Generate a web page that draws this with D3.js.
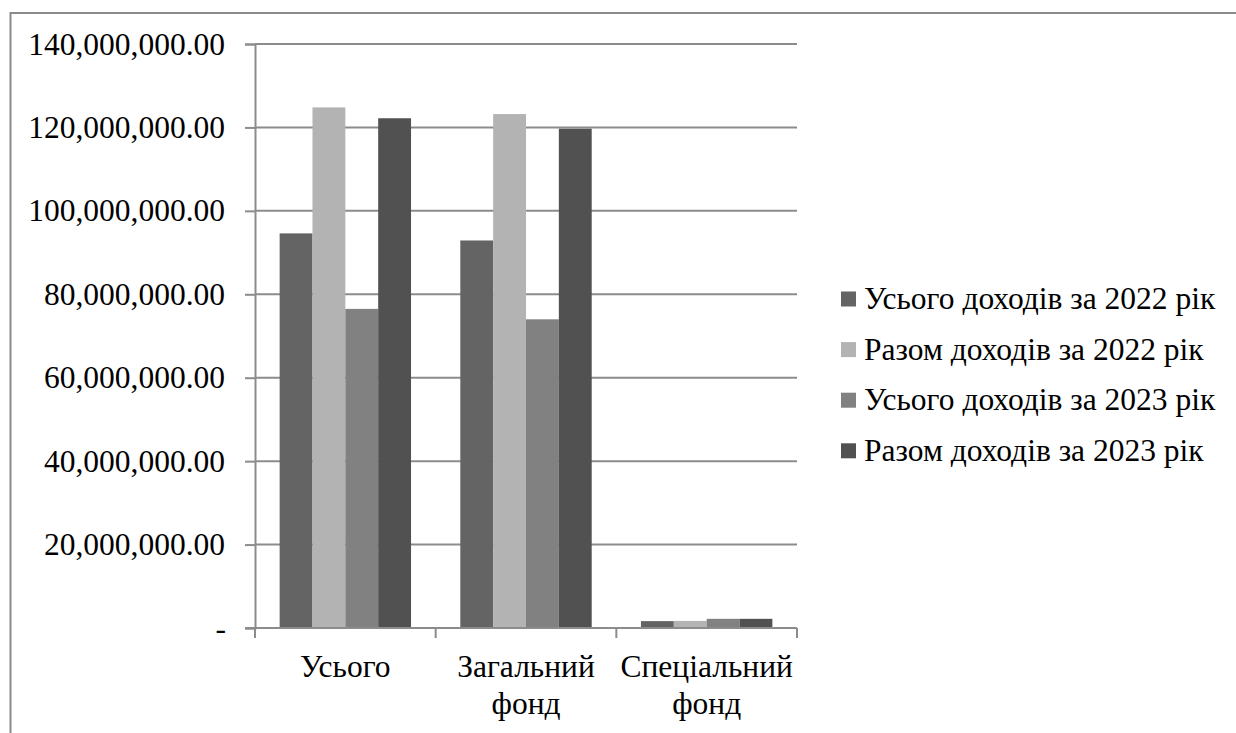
<!DOCTYPE html>
<html>
<head>
<meta charset="utf-8">
<script src="https://cdn.jsdelivr.net/npm/d3@7"></script>
<style>
    body { margin: 0; background: #fff; }
</style>
</head>
<body>
<div id="canvas"></div>
<script>
"use strict"

/* data */
let categories = ["Усього", "Загальний фонд", "Спеціальний фонд"];
let seriesNames = ["Усього доходів за 2022 рік", "Разом доходів за 2022 рік", "Усього доходів за 2023 рік", "Разом доходів за 2023 рік"];
let total2022 = [94600000, 92900000, 1650000];
let sum2022 = [124800000, 123200000, 1700000];
let total2023 = [76500000, 74000000, 2200000];
let sum2023 = [122200000, 119700000, 2200000];
let yTicks = [0, 20000000, 40000000, 60000000, 80000000, 100000000, 120000000, 140000000];
let seriesValues = [total2022, sum2022, total2023, sum2023];
let seriesColors = ["#646464", "#b3b3b3", "#818181", "#515151"];

let width = 1236, height = 733;
let fontName = "'Liberation Serif'";
let fontSize = "31.5px";

/* set up the drawing canvas */
let drawing = d3.select("#canvas")
    .append("svg")
    .attr("width", width)
    .attr("height", height);

/* outer chart frame, runs off the right and bottom edges */
drawing.append("rect")
    .attr("x", 10.5)
    .attr("y", 13)
    .attr("width", 1240)
    .attr("height", 740)
    .attr("fill", "none")
    .attr("stroke", "#8a8a8a")
    .attr("stroke-width", 2);

let plotLeft = 255, plotRight = 797, plotTop = 44, plotBottom = 628;

let y = d3.scaleLinear()
    .domain([0, 140000000])
    .range([plotBottom, plotTop]);

let x0 = d3.scaleBand()
    .domain(categories)
    .range([plotLeft, plotRight]);

/* Excel style gap width of 150% */
let barW = x0.bandwidth() / (seriesNames.length + 1.5);
let x1 = d3.scaleBand()
    .domain(seriesNames)
    .range([barW * 0.75, barW * 0.75 + barW * seriesNames.length]);

/* gridlines */
drawing.append("g")
    .selectAll("line")
    .data(yTicks.filter(d => d > 0))
    .join("line")
    .attr("x1", plotLeft)
    .attr("x2", plotRight)
    .attr("y1", d => y(d))
    .attr("y2", d => y(d))
    .attr("stroke", "#8c8c8c")
    .attr("stroke-width", 2);

/* bars */
let rows = categories.map((c, i) => ({
    cat: c,
    vals: seriesNames.map((s, j) => ({ name: s, value: seriesValues[j][i], color: seriesColors[j] }))
}));

drawing.append("g")
    .selectAll("g")
    .data(rows)
    .join("g")
    .attr("transform", d => "translate(" + x0(d.cat) + ",0)")
    .selectAll("rect")
    .data(d => d.vals)
    .join("rect")
    .attr("x", d => x1(d.name))
    .attr("width", x1.bandwidth())
    .attr("y", d => y(d.value))
    .attr("height", d => y(0) - y(d.value))
    .attr("fill", d => d.color);

/* y axis */
let yAxis = drawing.append("g")
    .attr("transform", "translate(" + plotLeft + ",0)")
    .call(d3.axisLeft(y)
        .tickValues(yTicks)
        .tickSize(10)
        .tickPadding(20)
        .tickFormat(d => d === 0 ? "-" : d3.format(",.2f")(d)));
yAxis.select(".domain").attr("stroke", "#8c8c8c").attr("stroke-width", 2);
yAxis.selectAll(".tick line").attr("stroke", "#8c8c8c").attr("stroke-width", 2);
yAxis.selectAll(".tick text")
    .style("font-family", fontName)
    .style("font-size", fontSize)
    .attr("fill", "#000")
    .attr("dy", "0.32em");
yAxis.selectAll(".tick text").filter(d => d === 0).attr("x", -29);

/* x axis */
let xAxis = drawing.append("g")
    .attr("transform", "translate(0," + plotBottom + ")");
xAxis.append("line")
    .attr("x1", plotLeft - 10)
    .attr("x2", plotRight)
    .attr("stroke", "#8c8c8c")
    .attr("stroke-width", 2);
xAxis.selectAll("line.tick")
    .data(categories.concat(["end"]))
    .join("line")
    .attr("class", "tick")
    .attr("x1", (d, i) => i < categories.length ? x0(d) : plotRight)
    .attr("x2", (d, i) => i < categories.length ? x0(d) : plotRight)
    .attr("y1", 0)
    .attr("y2", 10)
    .attr("stroke", "#8c8c8c")
    .attr("stroke-width", 2);

let labels = xAxis.selectAll("text")
    .data(categories)
    .join("text")
    .attr("x", d => x0(d) + x0.bandwidth() / 2)
    .attr("y", 49)
    .attr("text-anchor", "middle")
    .style("font-family", fontName)
    .style("font-size", fontSize)
    .attr("fill", "#000");
labels.selectAll("tspan")
    .data(d => d.split(" "))
    .join("tspan")
    .attr("x", function () { return this.parentNode.getAttribute("x"); })
    .attr("dy", (d, i) => i === 0 ? 0 : 37)
    .text(d => d);

/* legend */
let legend = drawing.append("g")
    .selectAll("g")
    .data(seriesNames)
    .join("g")
    .attr("transform", (d, i) => "translate(841," + (299 + i * 50.6) + ")");
legend.append("rect")
    .attr("x", 0)
    .attr("y", -7.5)
    .attr("width", 15)
    .attr("height", 15)
    .attr("fill", (d, i) => seriesColors[i]);
legend.append("text")
    .attr("x", 23)
    .attr("y", 0)
    .attr("dy", "0.32em")
    .style("font-family", fontName)
    .style("font-size", fontSize)
    .attr("fill", "#000")
    .text(d => d);
</script>
</body>
</html>
